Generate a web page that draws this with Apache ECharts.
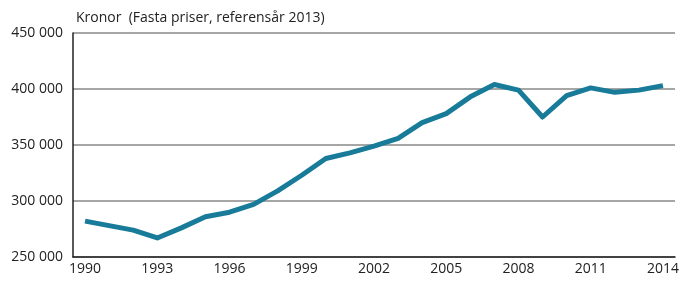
<!DOCTYPE html>
<html>
<head>
<meta charset="utf-8">
<script src="https://cdn.jsdelivr.net/npm/echarts@6/dist/echarts.min.js"></script>
<style>
  html, body { margin: 0; padding: 0; background: #fff; }
  #main { width: 682px; height: 281px; }
</style>
</head>
<body>
<div id="main"></div>
<script>
// år och värden (kronor, fasta priser)
const years = ['1990', '1991', '1992', '1993', '1994', '1995', '1996', '1997', '1998', '1999',
    '2000', '2001', '2002', '2003', '2004', '2005', '2006', '2007', '2008', '2009',
    '2010', '2011', '2012', '2013', '2014'];
const income = [282000, 278000, 274000, 267000, 276000, 286000, 290000, 297000, 309000, 323000,
    338000, 343000, 349000, 356000, 370000, 378000, 393000, 404000, 399000, 375000,
    394000, 401000, 397000, 399000, 403000];
const yTicks = { min: 250000, max: 450000, step: 50000 };
const unitText = 'Kronor  (Fasta priser, referensår 2013)';

function fmt(v) {
    return String(v).replace(/\B(?=(\d{3})+(?!\d))/g, ' ');
}

function initChart() {
    const chart = echarts.init(document.getElementById('main'));
    const font = '"Open Sans", sans-serif';
    chart.setOption({
        animation: false,
        textStyle: { fontFamily: font },
        grid: { left: 73, right: 7, top: 33, bottom: 24, containLabel: false },
        title: {
            text: unitText,
            left: 71, top: 6,
            textStyle: { fontFamily: font, fontSize: 14, fontWeight: 'normal', color: '#222' }
        },
        xAxis: {
            type: 'category',
            data: years,
            boundaryGap: true,
            axisLine: { lineStyle: { color: '#222', width: 1.5 } },
            axisTick: { show: false },
            axisLabel: {
                interval: 2,
                color: '#222', fontSize: 14, fontFamily: font, margin: 5
            }
        },
        yAxis: {
            type: 'value',
            min: yTicks.min, max: yTicks.max, interval: yTicks.step,
            axisLine: { show: true, lineStyle: { color: '#222', width: 1.5 } },
            axisTick: { show: false },
            splitLine: { lineStyle: { color: '#888', width: 1.5 } },
            axisLabel: {
                color: '#222', fontSize: 14, fontFamily: font, margin: 10,
                formatter: fmt
            }
        },
        series: [{
            type: 'line',
            data: income,
            symbol: 'none',
            lineStyle: { color: '#187b99', width: 5, join: 'round' }
        }]
    });
}

document.addEventListener('DOMContentLoaded', initChart);
</script>
</body>
</html>
